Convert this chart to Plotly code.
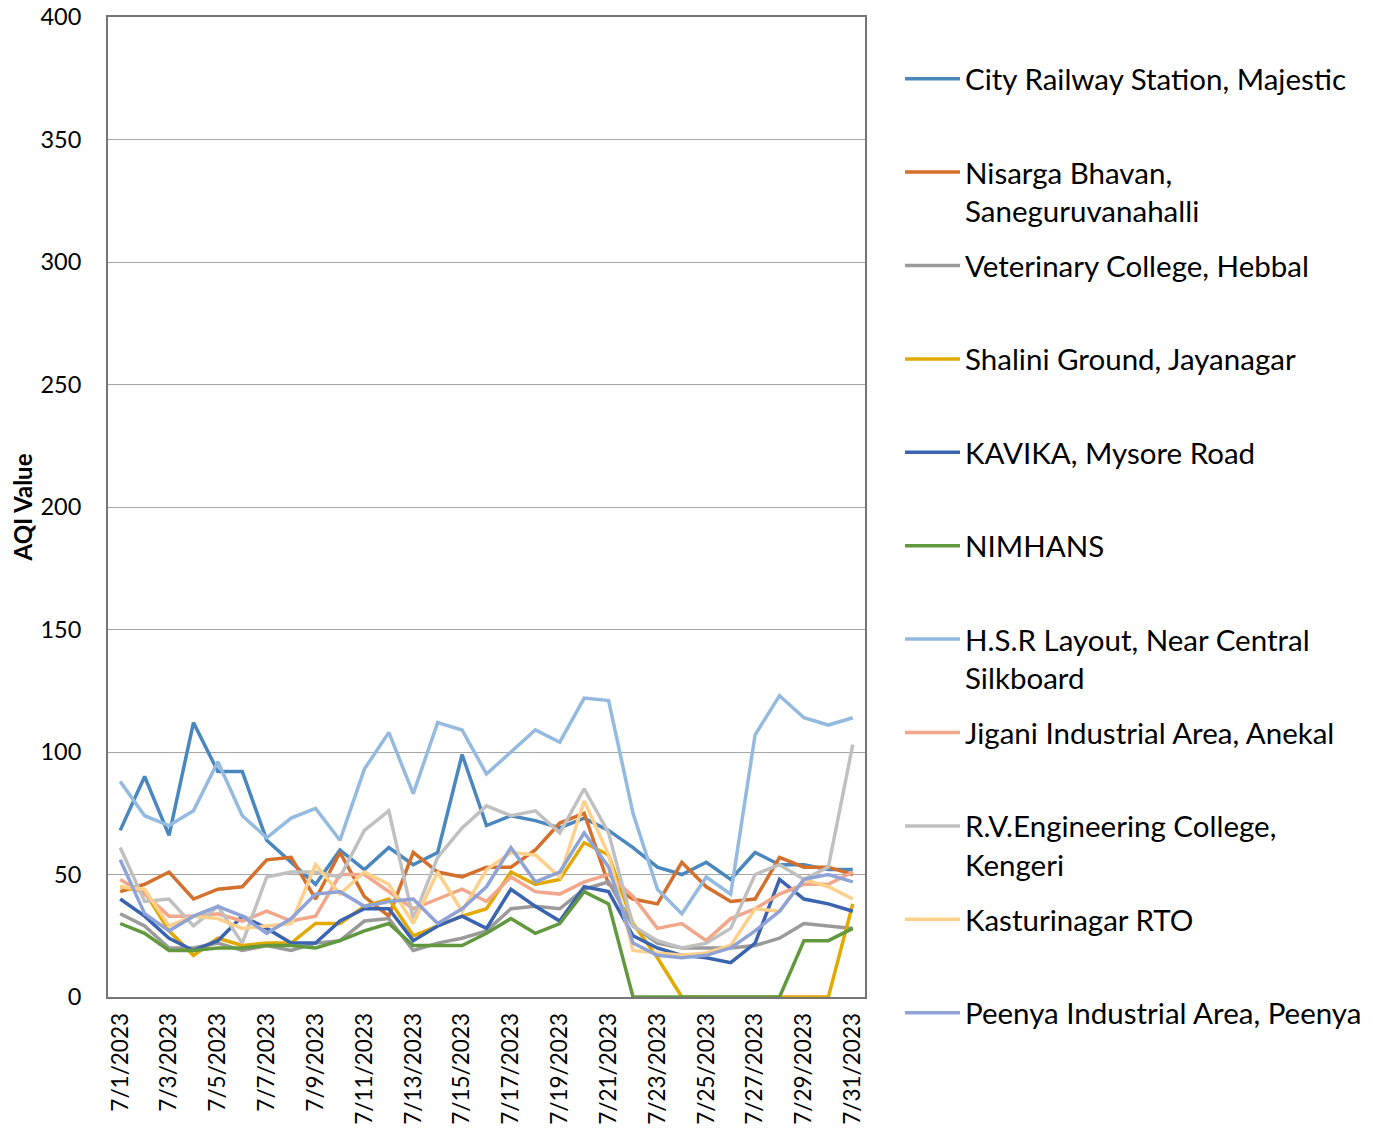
import plotly.graph_objects as go

dates = [f"7/{d}/2023" for d in range(1, 32)]
tick_labels = [f"7/{d}/2023" for d in range(1, 32, 2)]

city_railway = [68, 90, 66, 112, 92, 92, 64, 55, 46, 60, 52, 61, 54, 59, 99, 70, 74, 72, 69, 73, 68, 61, 53, 50, 55, 48, 59, 54, 54, 52, 52]
nisarga = [43, 46, 51, 40, 44, 45, 56, 57, 40, 59, 41, 33, 59, 51, 49, 53, 53, 60, 71, 75, 46, 40, 38, 55, 45, 39, 40, 57, 53, 53, 50]
veterinary = [34, 29, 20, 20, 22, 19, 21, 19, 22, 23, 31, 32, 19, 22, 24, 27, 36, 37, 36, 44, 47, 29, 22, 20, 20, 20, 21, 24, 30, 29, 28]
shalini = [45, 43, 27, 17, 24, 21, 22, 22, 30, 30, 37, 40, 25, 29, 33, 36, 51, 46, 48, 63, 58, 30, 16, 0, 0, 0, 0, 0, 0, 0, 38]
kavika = [40, 33, 24, 19, 23, 33, 28, 22, 22, 31, 36, 36, 23, 29, 33, 28, 44, 37, 31, 45, 43, 25, 20, 17, 16, 14, 22, 48, 40, 38, 35]
nimhans = [30, 26, 19, 19, 20, 20, 21, 21, 20, 23, 27, 30, 21, 21, 21, 26, 32, 26, 30, 43, 38, 0, 0, 0, 0, 0, 0, 0, 23, 23, 28]
hsr = [88, 74, 70, 76, 96, 74, 65, 73, 77, 64, 93, 108, 83, 112, 109, 91, 100, 109, 104, 122, 121, 75, 44, 34, 49, 42, 107, 123, 114, 111, 114]
jigani = [48, 42, 33, 33, 34, 31, 35, 31, 33, 50, 50, 43, 36, 40, 44, 39, 49, 43, 42, 47, 50, 41, 28, 30, 23, 32, 36, 42, 46, 46, 51]
rv_college = [61, 39, 40, 29, 37, 22, 49, 51, 51, 49, 68, 76, 32, 57, 69, 78, 74, 76, 67, 85, 67, 29, 23, 20, 22, 28, 50, 54, 48, 53, 103]
kasturinagar = [45, 44, 29, 33, 32, 28, 29, 30, 54, 42, 51, 46, 30, 51, 35, 52, 59, 58, 49, 80, 58, 19, 18, 17, 18, 21, 36, 35, 48, 45, 40]
peenya = [56, 34, 27, 33, 37, 33, 26, 32, 42, 43, 37, 39, 40, 30, 36, 45, 61, 47, 51, 67, 53, 22, 17, 16, 17, 20, 27, 35, 48, 50, 47]

series = [
    ("City Railway Station, Majestic", city_railway, "#4a87bf"),
    ("Nisarga Bhavan,<br>Saneguruvanahalli", nisarga, "#d4702b"),
    ("Veterinary College, Hebbal", veterinary, "#9a9a9a"),
    ("Shalini Ground, Jayanagar", shalini, "#e2aa00"),
    ("KAVIKA, Mysore Road", kavika, "#3b64b0"),
    ("NIMHANS", nimhans, "#62993e"),
    ("H.S.R Layout, Near Central<br>Silkboard", hsr, "#95badf"),
    ("Jigani Industrial Area, Anekal", jigani, "#f2a68a"),
    ("R.V.Engineering College,<br>Kengeri", rv_college, "#c0c0c0"),
    ("Kasturinagar RTO", kasturinagar, "#ffd08a"),
    ("Peenya Industrial Area, Peenya", peenya, "#8fa3d6"),
]

FONT = "Lato, Calibri, sans-serif"
OFF = 8  # default page body margin
W, H = 1388 - 2 * OFF, 1133 - 2 * OFF
plot_left, plot_right, plot_top, plot_bottom = 108 - OFF, 865 - OFF, 17 - OFF, 997 - OFF

fig = go.Figure()
layout_legends = {}
for i, (name, vals, color) in enumerate(series):
    key = "legend" if i == 0 else f"legend{i+1}"
    fig.add_trace(go.Scatter(
        x=dates, y=vals, name=name, mode="lines",
        line=dict(color=color, width=3.5),
        legend=key,
    ))
    center_py = 80 + i * 93.4 - OFF
    top_py = center_py - 27
    layout_legends[key] = dict(
        x=(900 - OFF - plot_left) / (plot_right - plot_left),
        xanchor="left",
        y=(plot_bottom - top_py) / (plot_bottom - plot_top),
        yanchor="top",
        valign="top",
        font=dict(family=FONT, size=29.5, color="#000000"),
        bgcolor="rgba(0,0,0,0)",
        itemwidth=55,
        tracegroupgap=0,
    )

fig.update_layout(
    width=W, height=H,
    margin=dict(l=plot_left, r=W - plot_right, t=plot_top, b=H - plot_bottom),
    paper_bgcolor="white", plot_bgcolor="white",
    showlegend=True,
    **layout_legends,
)

fig.update_xaxes(
    type="category",
    range=[-0.5, 30.5],
    tickmode="array", tickvals=tick_labels, ticktext=tick_labels,
    tickangle=-90,
    tickfont=dict(family=FONT, size=22.5, color="#000000"),
    showgrid=False,
    showline=True, linecolor="#767676", linewidth=2, mirror=True,
    ticks="", ticklabelstandoff=5,
    automargin=False,
)
fig.update_yaxes(
    range=[0, 400],
    tickmode="array", tickvals=[0, 50, 100, 150, 200, 250, 300, 350, 400],
    tickfont=dict(family=FONT, size=23.5, color="#000000"),
    ticklabeloverflow="allow",
    showgrid=True, gridcolor="#a6a6a6", gridwidth=1,
    showline=True, linecolor="#767676", linewidth=2, mirror=True,
    ticks="", ticklabelstandoff=20,
    zeroline=False,
    automargin=False,
    title=dict(text="<b>AQI Value</b>", font=dict(family=FONT, size=24, color="#000000"), standoff=12),
)

fig.write_html("out.html")
